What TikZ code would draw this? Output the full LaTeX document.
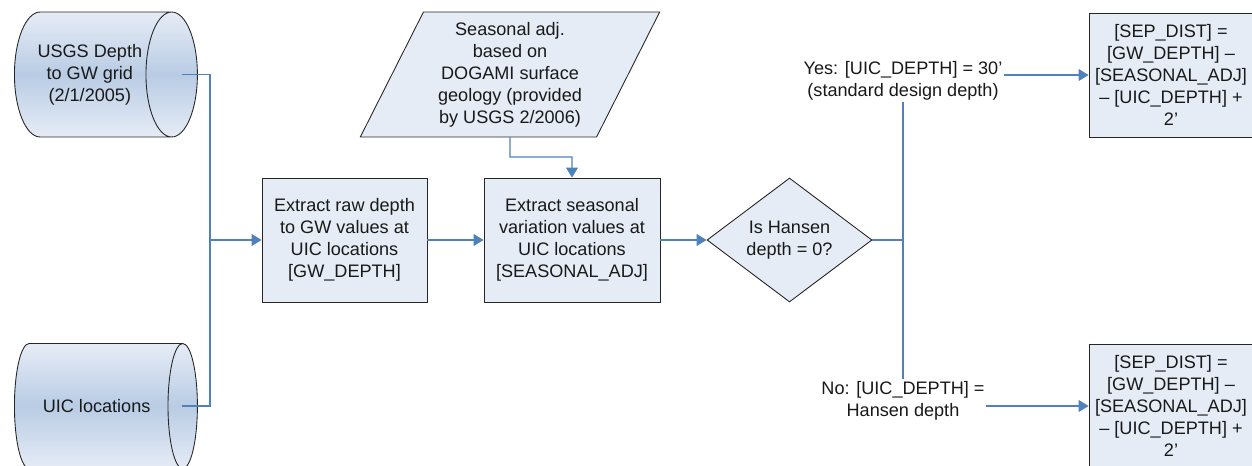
\documentclass[tikz,border=0pt]{standalone}
\usepackage{fontspec}
\setmainfont{Liberation Sans}
\usepackage{tikz}
\usetikzlibrary{shapes.geometric,arrows.meta,positioning,calc}
\definecolor{boxfill}{HTML}{E6ECF6}
\definecolor{cylmid}{HTML}{B9CCE4}
\definecolor{linkblue}{HTML}{4F81BD}
\tikzset{
  every node/.style={font=\fontsize{10.3}{12.5}\selectfont, align=center, text=black!90},
  procbox/.style={draw=black!85, fill=boxfill, line width=0.5pt, minimum height=2.48cm, inner sep=1pt},
  datacyl/.style={cylinder, draw=black!85, line width=0.5pt, anchor=west,
    top color=boxfill, bottom color=boxfill, middle color=cylmid,
    minimum width=2.5cm, minimum height=3.66cm, inner sep=1pt},
  dataio/.style={trapezium, trapezium left angle=63.6, trapezium right angle=116.4,
    trapezium stretches=true, draw=black!85, fill=boxfill, line width=0.5pt,
    minimum width=6cm, minimum height=2.5cm, inner sep=1pt},
  choice/.style={diamond, draw=black!85, fill=boxfill, line width=0.5pt, aspect=1.33,
    minimum width=3.3cm, minimum height=2.48cm, inner sep=0pt},
  link/.style={draw=linkblue, line width=0.6pt},
  flow/.style={link, -{Triangle[length=5.7pt,width=6.8pt]}},
  cond/.style={fill=white, inner sep=1pt}
}
\begin{document}
\begin{tikzpicture}[x=0.02cm, y=-0.02cm]
    \useasboundingbox (0,0) rectangle (1252,466);
    % sources
    \node[datacyl, aspect=0.8] (gwgrid) at (14,74.5) {USGS Depth\\to GW grid\\(2/1/2005)};
    \node[datacyl, aspect=1.75] (uicloc) at (14,406) {UIC locations};
    \node[dataio] (seasadj) at (510,74.5) {Seasonal adj.\\based on\\DOGAMI surface\\geology (provided\\by USGS 2/2006)};

    % processing
    \node[procbox, minimum width=3.3cm] (rawdepth) at (344.5,240) {Extract raw depth\\to GW values at\\UIC locations\\{[GW\_DEPTH]}};
    \node[procbox, minimum width=3.52cm] (seasvar) at (572,240) {Extract seasonal\\variation values at\\UIC locations\\{[SEASONAL\_ADJ]}};
    \node[choice] (hansen) at (789.5,240) {Is Hansen\\depth = 0?};

    % results
    \node[procbox, minimum width=3.28cm] (sepyes) at (1171,75) {{[SEP\_DIST]} =\\{[GW\_DEPTH]} –\\{[SEASONAL\_ADJ]}\\– [UIC\_DEPTH] +\\2’};
    \node[procbox, minimum width=3.28cm] (sepno) at (1171,406) {{[SEP\_DIST]} =\\{[GW\_DEPTH]} –\\{[SEASONAL\_ADJ]}\\– [UIC\_DEPTH] +\\2’};

    \coordinate (join) at (210,240);
    \coordinate (bend) at (510,157);
    \coordinate (split) at (903,240);

    \draw[link] ([xshift=-0.32cm]gwgrid.east) -| (join);
    \draw[link] ([xshift=-0.32cm]uicloc.east) -| (join);
    \draw[flow] (join) -- (rawdepth);
    \draw[flow] (rawdepth) -- (seasvar);
    \draw[flow] (seasadj.south) -- (bend) -| (seasvar.north);
    \draw[flow] (seasvar) -- (hansen);
    \draw[link] (hansen.east) -- (split);
    \draw[flow] (split) |- (sepyes.west);
    \draw[flow] (split) |- (sepno.west);

    \node[cond] (yes) at (903,80.5) {Yes: [UIC\_DEPTH] = 30’\\(standard design depth)};
    \node[cond] (no) at (903,400.5) {No: [UIC\_DEPTH] =\\Hansen depth};
\end{tikzpicture}
\end{document}
